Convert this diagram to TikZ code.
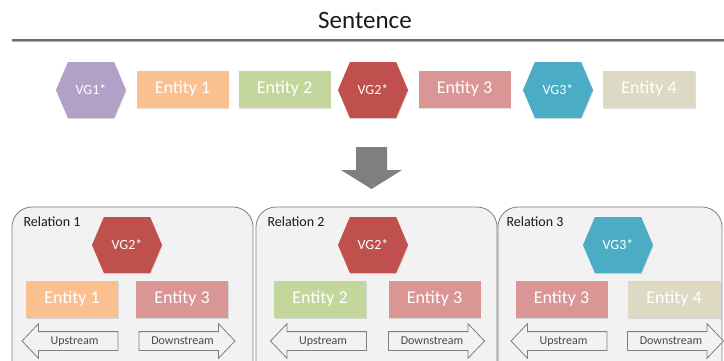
\documentclass[tikz,border=0pt]{standalone}
\usepackage{fontspec}
\setmainfont{Carlito}
\usetikzlibrary{shapes.symbols, shapes.arrows, shadows}
\definecolor{ink}{HTML}{1A1A1A}
\definecolor{rule}{HTML}{7F7F7F}
\definecolor{panel}{HTML}{F2F2F2}
\definecolor{vgone}{HTML}{B2A1C7}
\definecolor{vgtwo}{HTML}{C0504D}
\definecolor{vgthree}{HTML}{4BACC6}
\definecolor{entone}{HTML}{FAC090}
\definecolor{enttwo}{HTML}{C3D69B}
\definecolor{entthree}{HTML}{D99694}
\definecolor{entfour}{HTML}{DDD9C3}
\tikzset{
  every node/.style = {text=ink},
  rlent/.style   = {rectangle, minimum width=92pt, minimum height=37pt, inner sep=0pt,
                    text=white, font=\fontsize{18}{20}\selectfont,
                    drop shadow={shadow xshift=0.6pt, shadow yshift=-1.2pt, opacity=0.25}},
  rlvg/.style    = {signal, signal to=east and west, signal pointer angle=134,
                    minimum width=70pt, minimum height=56pt, inner sep=0pt,
                    text=white, font=\fontsize{14}{16}\selectfont,
                    drop shadow={shadow xshift=0.6pt, shadow yshift=-1.2pt, opacity=0.25}},
  rlbox/.style   = {draw=rule, fill=panel, line width=0.8pt, rounded corners=20pt},
  rlhead/.style  = {font=\fontsize{14}{16}\selectfont, anchor=west},
  rlflow/.style  = {single arrow, draw=rule, fill=panel, line width=0.8pt,
                    single arrow head extend=8pt, single arrow head indent=0pt,
                    single arrow tip angle=93, text height=9pt, text depth=3pt,
                    inner xsep=0pt, inner ysep=3pt,
                    minimum height=96pt, minimum width=34pt,
                    text=ink!80, font=\fontsize{12}{14}\selectfont},
  rlup/.style    = {rlflow, shape border rotate=180},
}

\begin{document}
\begin{tikzpicture}[x=1pt, y=-1pt]
\fill[white] (0,0) rectangle (724,360);
\clip (0,0) rectangle (724,360);

% sentence line
\node[font=\fontsize{25}{28}\selectfont] (sent) at (365,20) {Sentence};
\draw[rule!60, line width=1.5pt] (12,41.5) -- (726,41.5);
\draw[rule!85!black, line width=1.6pt] (12,40) -- (726,40);

% tokens of the sentence
\node[rlvg,  fill=vgone]    (vga)  at (91,90)    {VG1*};
\node[rlent, fill=entone]   (ena)  at (182.5,89) {Entity 1};
\node[rlent, fill=enttwo]   (enb)  at (284.5,89) {Entity 2};
\node[rlvg,  fill=vgtwo]    (vgb)  at (373,90)   {VG2*};
\node[rlent, fill=entthree] (enc)  at (464.5,89) {Entity 3};
\node[rlvg,  fill=vgthree]  (vgc)  at (558,90)   {VG3*};
\node[rlent, fill=entfour]  (end)  at (649,89)   {Entity 4};

% split into relations
\fill[rule] (356,147) -- (387,147) -- (387,170) -- (402,170) -- (371.5,189)
  -- (341,170) -- (356,170) -- cycle;

% relation panels
\draw[rlbox] (12,372) |- (253,207) -- (253,372);
\draw[rlbox] (256,372) |- (497,207) -- (497,372);
\draw[rlbox] (498,372) |- (722,207) -- (722,372);

\node[rlhead] (rela) at (20,222)  {Relation 1};
\node[rlhead] (relb) at (264,222) {Relation 2};
\node[rlhead] (relc) at (503,222) {Relation 3};

% relation 1
\node[rlvg,  fill=vgtwo]    (vgba) at (127,245) {VG2*};
\node[rlent, fill=entone]   (enaa) at (72,299)  {Entity 1};
\node[rlent, fill=entthree] (enca) at (182,299) {Entity 3};
\node[rlup]   (upa)  at (74.5,341)  {Upstream};
\node[rlflow] (dna)  at (182.5,341) {Downstream};

% relation 2
\node[rlvg,  fill=vgtwo]    (vgbb) at (373,245)   {VG2*};
\node[rlent, fill=enttwo]   (enbb) at (320,299)   {Entity 2};
\node[rlent, fill=entthree] (encb) at (434.5,299) {Entity 3};
\node[rlup]   (upb)  at (323,341) {Upstream};
\node[rlflow] (dnb)  at (432,341) {Downstream};

% relation 3
\node[rlvg,  fill=vgthree]  (vgcc) at (618,245)   {VG3*};
\node[rlent, fill=entthree] (encc) at (561.5,299) {Entity 3};
\node[rlent, fill=entfour]  (endc) at (674,299)   {Entity 4};
\node[rlup]   (upc)  at (563.5,341) {Upstream};
\node[rlflow] (dnc)  at (671,341)   {Downstream};
\end{tikzpicture}
\end{document}
